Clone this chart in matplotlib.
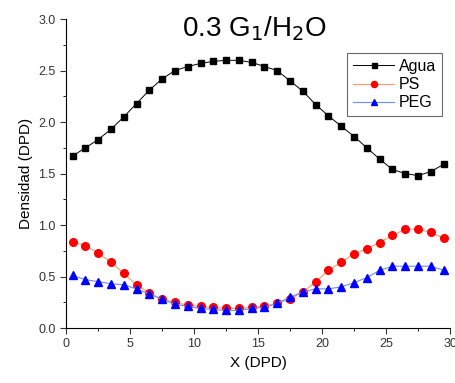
import numpy as np
import matplotlib
matplotlib.use('Agg')
import matplotlib.pyplot as plt
from matplotlib.ticker import MultipleLocator

# posiciones X (DPD) y densidades
x = np.arange(0.5, 30, 1.0)

agua = [1.67, 1.75, 1.83, 1.93, 2.05, 2.18, 2.31, 2.42, 2.50, 2.54,
        2.57, 2.59, 2.60, 2.60, 2.58, 2.54, 2.50, 2.40, 2.30, 2.17,
        2.06, 1.96, 1.86, 1.75, 1.64, 1.54, 1.50, 1.48, 1.52, 1.59]
ps = [0.84, 0.80, 0.73, 0.64, 0.53, 0.42, 0.34, 0.28, 0.25, 0.22,
      0.21, 0.20, 0.19, 0.19, 0.20, 0.21, 0.24, 0.28, 0.35, 0.45,
      0.56, 0.64, 0.72, 0.77, 0.83, 0.90, 0.96, 0.96, 0.93, 0.87]
peg = [0.51, 0.47, 0.45, 0.43, 0.42, 0.38, 0.33, 0.28, 0.23, 0.21,
       0.19, 0.18, 0.17, 0.17, 0.19, 0.20, 0.24, 0.30, 0.35, 0.38,
       0.38, 0.40, 0.44, 0.49, 0.56, 0.60, 0.60, 0.60, 0.60, 0.56]

plt.rcParams['font.family'] = ['Liberation Sans', 'DejaVu Sans']

fig = plt.figure(figsize=(4.56, 3.83), dpi=100)
ax = fig.add_axes([0.145, 0.1436, 0.842, 0.8064])

ax.plot(x, agua, marker='s', color='black', markersize=4.5, linewidth=0.7,
        label='Agua')
ax.plot(x, ps, marker='o', color='#ff9a70', markerfacecolor='red',
        markeredgecolor='red', markersize=5.5, linewidth=0.8, label='PS')
ax.plot(x, peg, marker='^', color='#6a8cff', markerfacecolor='blue',
        markeredgecolor='blue', markersize=5.5, linewidth=0.8, label='PEG')

ax.set_xlim(0, 30)
ax.set_ylim(0, 3.0)
ax.xaxis.set_major_locator(MultipleLocator(5))
ax.xaxis.set_minor_locator(MultipleLocator(2.5))
ax.yaxis.set_major_locator(MultipleLocator(0.5))
ax.yaxis.set_minor_locator(MultipleLocator(0.25))
ax.spines['top'].set_visible(False)
ax.spines['right'].set_visible(False)
ax.tick_params(axis='both', which='major', direction='out', length=4,
               labelsize=9, colors='#333333')
ax.tick_params(axis='both', which='minor', direction='out', length=2.5)

ax.set_xlabel('X (DPD)', fontsize=11)
ax.set_ylabel('Densidad (DPD)', fontsize=11)

ax.text(0.49, 0.97, r'0.3 G$_1$/H$_2$O', transform=ax.transAxes,
        ha='center', va='center', fontsize=20)

leg = ax.legend(loc='upper right', bbox_to_anchor=(1.0, 0.915),
                fontsize=11.5, frameon=True, fancybox=False,
                edgecolor='#444444', handlelength=2.6, borderpad=0.35,
                labelspacing=0.2, handletextpad=0.3, markerscale=0.8)
leg.get_frame().set_linewidth(0.8)

fig.savefig('out.png', dpi=100)
